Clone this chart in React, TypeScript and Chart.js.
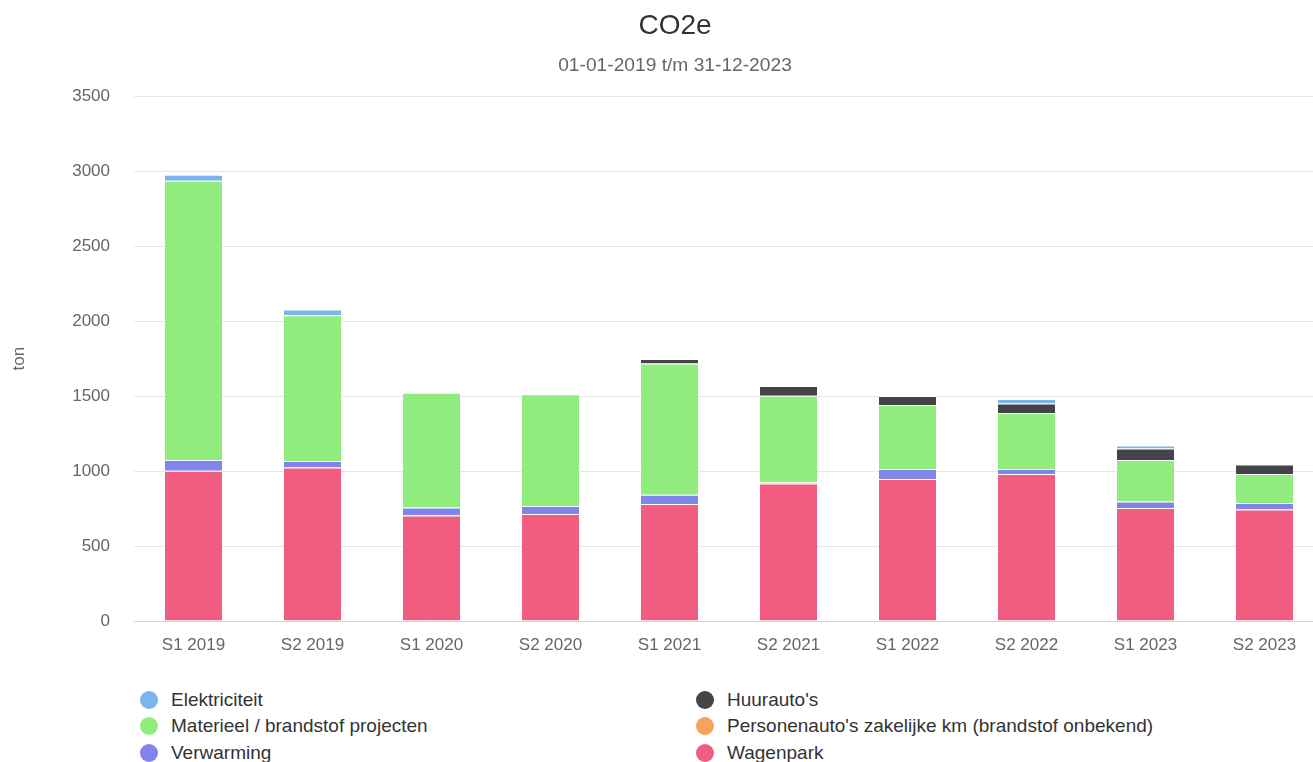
import React, { useEffect, useRef } from "react";
import { Chart, registerables } from "chart.js";

Chart.register(...registerables);

const categories = ["S1 2019", "S2 2019", "S1 2020", "S2 2020", "S1 2021", "S2 2021", "S1 2022", "S2 2022", "S1 2023", "S2 2023"];
const wagenpark = [1002, 1023, 703, 713, 780, 917, 947, 980, 753, 743];
const verwarming = [71, 44, 54, 54, 62, 8, 66, 33, 44, 44];
const personenautos = [0, 0, 0, 0, 0, 0, 0, 0, 0, 0];
const materieel = [1864, 973, 766, 746, 875, 578, 427, 374, 276, 193];
const huurautos = [0, 0, 0, 0, 30, 64, 60, 63, 77, 63];
const elektriciteit = [40, 37, 0, 0, 0, 0, 0, 30, 20, 0];
const yTicks = [0, 500, 1000, 1500, 2000, 2500, 3000, 3500];

const FONT = "'Liberation Sans', Arial, Helvetica, sans-serif";

// stacked bottom -> top
const series = [
  { label: "Wagenpark", data: wagenpark, color: "#f15c80" },
  { label: "Verwarming", data: verwarming, color: "#8085e9" },
  { label: "Personenauto's zakelijke km (brandstof onbekend)", data: personenautos, color: "#f7a35c" },
  { label: "Materieel / brandstof projecten", data: materieel, color: "#90ed7d" },
  { label: "Huurauto's", data: huurautos, color: "#434348" },
  { label: "Elektriciteit", data: elektriciteit, color: "#7cb5ec" },
];

const legendOrder = [
  "Elektriciteit",
  "Huurauto's",
  "Materieel / brandstof projecten",
  "Personenauto's zakelijke km (brandstof onbekend)",
  "Verwarming",
  "Wagenpark",
];

export default function App() {
  const ref = useRef<HTMLCanvasElement | null>(null);

  useEffect(() => {
    if (!ref.current) return;
    Chart.defaults.font.family = FONT;
    const chart = new Chart(ref.current, {
      type: "bar",
      data: {
        labels: categories,
        datasets: series.map((s) => ({
          label: s.label,
          data: s.data,
          backgroundColor: s.color,
          borderColor: "#ffffff",
          borderWidth: { top: 1, left: 0, right: 0, bottom: 0 },
          barPercentage: 0.479,
          categoryPercentage: 1,
        })),
      },
      options: {
        responsive: false,
        animation: false,
        layout: { padding: { left: 0, right: 0, top: 0, bottom: 0 } },
        plugins: {
          legend: { display: false },
          tooltip: { enabled: false },
          title: {
            display: true,
            text: "CO2e",
            color: "#333333",
            font: { size: 28, weight: "normal", family: FONT },
            padding: { top: 9, bottom: 0 },
          },
          subtitle: {
            display: true,
            text: "01-01-2019 t/m 31-12-2023",
            color: "#666666",
            font: { size: 19.2, weight: "normal", family: FONT },
            padding: { top: 12, bottom: 18.6 },
          },
        },
        scales: {
          x: {
            stacked: true,
            grid: { display: false, drawTicks: false },
            border: { display: true, color: "#ccd6eb", width: 1 },
            ticks: { color: "#666666", font: { size: 17, family: FONT }, padding: 14, maxRotation: 0, autoSkip: false },
            afterFit: (scale: any) => {
              scale.height = 40;
            },
          },
          y: {
            stacked: true,
            min: 0,
            max: 3500,
            afterBuildTicks: (scale: any) => {
              scale.ticks = yTicks.map((v) => ({ value: v }));
            },
            grid: { color: "#e6e6e6", lineWidth: 1, drawTicks: false },
            border: { display: false },
            ticks: {
              color: "#666666",
              font: { size: 17, family: FONT },
              padding: 24,
              callback: (v: any) => String(v),
            },
            title: {
              display: true,
              text: "ton",
              color: "#666666",
              font: { size: 17, family: FONT },
              padding: { top: 9, bottom: 0 },
            },
            afterFit: (scale: any) => {
              scale.width = 134;
            },
          },
          yRight: {
            type: "linear",
            position: "right",
            display: true,
            grid: { display: false, drawTicks: false },
            border: { display: false },
            ticks: { display: false },
            afterFit: (scale: any) => {
              scale.width = 26;
            },
          },
        },
      },
    });
    return () => chart.destroy();
  }, []);

  const colorOf = (name: string) => series.find((s) => s.label === name)!.color;

  return (
    <div style={{ position: "absolute", left: 0, top: 0, width: 1313, height: 762, overflow: "hidden", background: "#fff" }}>
      <canvas ref={ref} width={1350} height={661} style={{ position: "absolute", left: 0, top: 0, width: 1350, height: 661 }} />
      {legendOrder.map((name, i) => {
        const col = i % 2;
        const row = Math.floor(i / 2);
        const left = col === 0 ? 140 : 696;
        const cy = 699.5 + row * 26.5;
        return (
          <div
            key={name}
            style={{
              position: "absolute",
              left,
              top: cy - 13,
              height: 26,
              display: "flex",
              alignItems: "center",
              whiteSpace: "nowrap",
              fontFamily: FONT,
              fontSize: 19,
              color: "#333333",
            }}
          >
            <span
              style={{
                display: "inline-block",
                width: 18,
                height: 18,
                borderRadius: 9,
                background: colorOf(name),
                marginRight: 13,
              }}
            />
            <span>{name}</span>
          </div>
        );
      })}
    </div>
  );
}
